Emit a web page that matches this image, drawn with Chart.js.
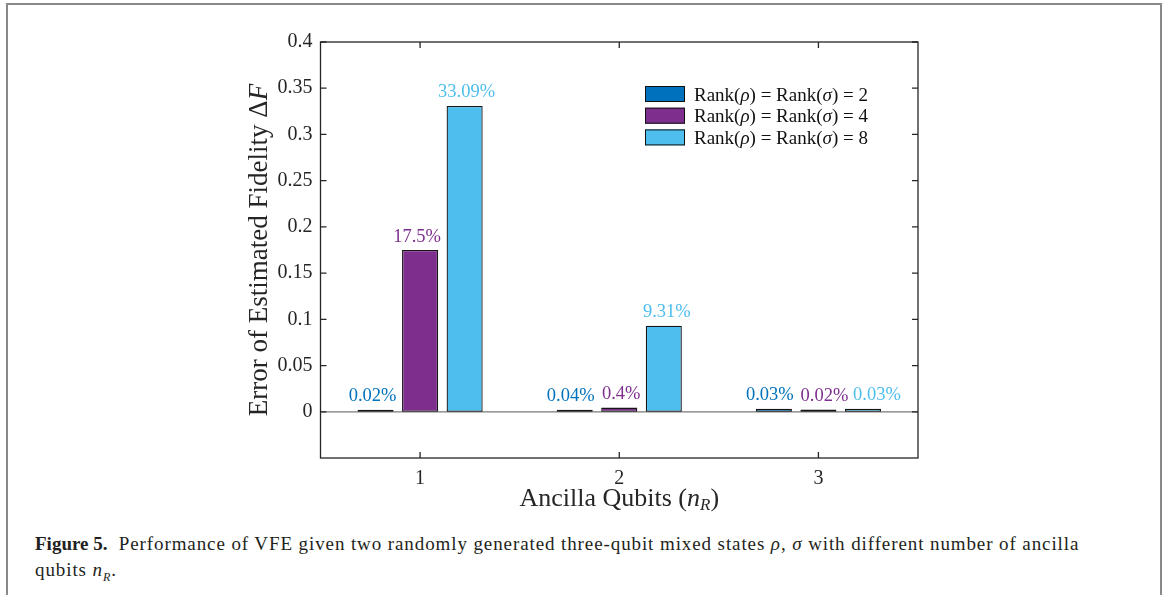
<!DOCTYPE html>
<html>
<head>
<meta charset="utf-8">
<script src="https://cdn.jsdelivr.net/npm/chart.js@4.4.1/dist/chart.umd.min.js"></script>
<style>
  html, body { margin: 0; padding: 0; background: #fff; }
  #wrap { position: relative; width: 1163px; height: 595px; overflow: hidden; }
  #frame { position: absolute; left: 6px; top: 3px; width: 1152px; height: 600px;
           border-left: 2px solid #888; border-top: 2px solid #888; border-right: 2px solid #888; }
  #c { position: absolute; left: 0; top: 0; }
  #caption { position: absolute; left: 35px; top: 531px; width: 1110px;
             font-family: "Liberation Serif", "Times New Roman", serif; font-size: 19px;
             letter-spacing: 0.9px; line-height: 26px; color: #231f20; white-space: nowrap; }
  #caption b { font-weight: bold; letter-spacing: 0; }
</style>
</head>
<body>
<div id="wrap">
  <div id="frame"></div>
  <canvas id="c" width="1163" height="525"></canvas>
  <div id="caption"><b>Figure 5.</b>&nbsp; Performance of VFE given two randomly generated three-qubit mixed states <i>ρ</i>, <i>σ</i> with different number of ancilla<br>qubits <i>n</i><sub style="font-size:12px"><i>R</i></sub>.</div>
</div>
<script>
// ---- data ----
const categories = ['1', '2', '3'];
const rank2 = [0.0002, 0.0004, 0.0032];
const rank4 = [0.175, 0.0045, 0.0025];
const rank8 = [0.3309, 0.0931, 0.0032];
const labels2 = ['0.02%', '0.04%', '0.03%'];
const labels4 = ['17.5%', '0.4%', '0.02%'];
const labels8 = ['33.09%', '9.31%', '0.03%'];
const rankNames = ['2', '4', '8'];
const colors = ['#0072BD', '#7E2F8E', '#4DBEEE'];
const yMin = -0.05, yMax = 0.4, yStep = 0.05;

const SERIF = '"Liberation Serif", "Times New Roman", serif';
const AXC = '#262626';
// horizontal nudges (px) of value labels, [series][category]
const labelNudge = [[-3, -4, -4], [-3, 2, 6], [2, 3, 14]];

function drawRuns(ctx, runs, x, y, align) {
  let total = 0;
  runs.forEach(r => { ctx.font = r.font; r.w = ctx.measureText(r.text).width; total += r.w; });
  let cx = align === 'center' ? x - total / 2 : x;
  ctx.textBaseline = 'alphabetic';
  ctx.textAlign = 'left';
  runs.forEach(r => { ctx.font = r.font; ctx.fillText(r.text, cx, y + (r.dy || 0)); cx += r.w; });
}

const baselinePlugin = {
  id: 'baseline',
  beforeDatasetsDraw(chart) {
    const { ctx, chartArea, scales } = chart;
    const y0 = scales.y.getPixelForValue(0);
    ctx.save();
    ctx.strokeStyle = '#7a7a7a';
    ctx.lineWidth = 1.2;
    ctx.beginPath();
    ctx.moveTo(chartArea.left, y0);
    ctx.lineTo(chartArea.right, y0);
    ctx.stroke();
    ctx.restore();
  }
};

const framePlugin = {
  id: 'frame',
  afterDatasetsDraw(chart) {
    const { ctx, chartArea: a, scales } = chart;
    ctx.save();
    ctx.strokeStyle = AXC;
    ctx.lineWidth = 1.3;
    ctx.strokeRect(a.left, a.top, a.right - a.left, a.bottom - a.top);
    const tl = 6;
    ctx.beginPath();
    for (let v = 0; v <= yMax + 1e-9; v += yStep) {
      const py = scales.y.getPixelForValue(v);
      ctx.moveTo(a.left, py); ctx.lineTo(a.left + tl, py);
      ctx.moveTo(a.right, py); ctx.lineTo(a.right - tl, py);
    }
    categories.forEach((c, i) => {
      const px = scales.x.getPixelForValue(i);
      ctx.moveTo(px, a.bottom); ctx.lineTo(px, a.bottom - tl);
      ctx.moveTo(px, a.top); ctx.lineTo(px, a.top + tl);
    });
    ctx.stroke();

    // value labels
    const lab = [labels2, labels4, labels8];
    ctx.font = '18.5px ' + SERIF;
    ctx.textAlign = 'center';
    ctx.textBaseline = 'alphabetic';
    chart.data.datasets.forEach((ds, di) => {
      const meta = chart.getDatasetMeta(di);
      meta.data.forEach((bar, i) => {
        ctx.fillStyle = colors[di];
        ctx.fillText(lab[di][i], bar.x + labelNudge[di][i], Math.min(bar.y, bar.base) - 8.5);
      });
    });

    // axis titles
    ctx.fillStyle = AXC;
    const xr = [
      { text: 'Ancilla Qubits (', font: '26px ' + SERIF },
      { text: 'n', font: 'italic 26px ' + SERIF },
      { text: 'R', font: 'italic 17px ' + SERIF, dy: 4 },
      { text: ')', font: '26px ' + SERIF }
    ];
    drawRuns(ctx, xr, (a.left + a.right) / 2, 506, 'center');

    ctx.save();
    ctx.translate(267, (a.top + a.bottom) / 2);
    ctx.rotate(-Math.PI / 2);
    const yr = [
      { text: 'Error of Estimated Fidelity Δ', font: '27px ' + SERIF },
      { text: 'F', font: 'italic 27px ' + SERIF }
    ];
    drawRuns(ctx, yr, 0, 0, 'center');
    ctx.restore();

    // legend
    const lx = 645, ly = 86, sw = 40, sh = 16, gap = 21.7;
    rankNames.forEach((r, i) => {
      const y = ly + i * gap;
      ctx.fillStyle = colors[i];
      ctx.fillRect(lx, y, sw, sh);
      ctx.strokeStyle = '#111';
      ctx.lineWidth = 1;
      ctx.strokeRect(lx + 0.5, y + 0.5, sw - 1, sh - 1);
      ctx.fillStyle = '#111';
      const f = '19px ' + SERIF, fi = 'italic 19px ' + SERIF;
      drawRuns(ctx, [
        { text: 'Rank(', font: f }, { text: 'ρ', font: fi }, { text: ') = Rank(', font: f },
        { text: 'σ', font: fi }, { text: ') = ' + r, font: f }
      ], lx + 49, y + 14.5, 'left');
    });
    ctx.restore();
  }
};

const ds = [rank2, rank4, rank8].map((d, i) => ({
  label: 'Rank(ρ) = Rank(σ) = ' + rankNames[i],
  data: d,
  backgroundColor: colors[i],
  borderColor: '#151515',
  borderWidth: 1.3,
  borderSkipped: false,
  minBarLength: 2,
  categoryPercentage: 0.671,
  barPercentage: 0.81
}));

new Chart(document.getElementById('c'), {
  type: 'bar',
  data: { labels: categories, datasets: ds },
  options: {
    responsive: false,
    animation: false,
    events: [],
    layout: { padding: { left: 0, top: 42, right: 245, bottom: 0 } },
    plugins: { legend: { display: false }, tooltip: { enabled: false } },
    scales: {
      x: {
        grid: { display: false, drawTicks: false },
        border: { display: false },
        ticks: { color: AXC, font: { family: SERIF, size: 20 }, padding: 9 },
        afterFit(s) { s.height = 525 - 458; }
      },
      y: {
        min: yMin, max: yMax,
        grid: { display: false, drawTicks: false },
        border: { display: false },
        ticks: {
          stepSize: yStep, color: AXC, font: { family: SERIF, size: 20 }, padding: 8,
          callback(v) { if (v < -1e-9) return ''; return String(parseFloat(v.toFixed(2))); }
        },
        afterFit(s) { s.width = 320.5; }
      }
    }
  },
  plugins: [baselinePlugin, framePlugin]
});
</script>
</body>
</html>
